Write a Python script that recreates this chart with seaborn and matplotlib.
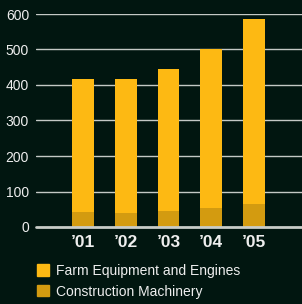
import numpy as np
import pandas as pd
import matplotlib
matplotlib.use("Agg")
import matplotlib.pyplot as plt
import seaborn as sns
from matplotlib.patches import Patch

years = ["\u201901", "\u201902", "\u201903", "\u201904", "\u201905"]
construction = [41, 39, 44, 53, 64]
farm = [376, 377, 401, 447, 522]
yticks = [0, 100, 200, 300, 400, 500, 600]

bg = "#011610"
farm_color = "#FDB913"
constr_color = "#D39B10"
text_color = "#EEEEEE"

sns.set_style("dark")
plt.rcParams["font.family"] = ["Liberation Sans", "DejaVu Sans"]

df = pd.DataFrame({"year": years, "farm": farm, "construction": construction})
df["total"] = df["farm"] + df["construction"]

fig = plt.figure(figsize=(3.02, 3.04), dpi=100, facecolor=bg)
ax = fig.add_axes([36 / 302, 1 - 227 / 304, 266 / 302, 213 / 304])
ax.set_facecolor(bg)

# grid lines behind bars
for v in yticks[1:]:
    ax.axhline(v, color="#C4C9C5", lw=1.0, zorder=0)
ax.axhline(0, color="#C8CCC8", lw=2.0, zorder=3, clip_on=False)

sns.barplot(data=df, x="year", y="total", color=farm_color, width=0.51,
            saturation=1, linewidth=0, edgecolor="none", ax=ax, zorder=2)
sns.barplot(data=df, x="year", y="construction", color=constr_color, width=0.51,
            saturation=1, linewidth=0, edgecolor="none", ax=ax, zorder=2)

ax.set_xlim(-1.1, 5.12)
ax.set_ylim(0, 600)
ax.set_yticks(yticks)
ax.set_xlabel("")
ax.set_ylabel("")
ax.grid(False)
for s in ax.spines.values():
    s.set_visible(False)
ax.tick_params(axis="y", length=0, pad=5, labelsize=10, labelcolor=text_color)
ax.tick_params(axis="x", length=0, pad=6, labelsize=12.5, labelcolor=text_color)
for lab in ax.get_xticklabels():
    lab.set_fontweight("bold")

handles = [Patch(color=farm_color, label="Farm Equipment and Engines"),
           Patch(color=constr_color, label="Construction Machinery")]
leg = fig.legend(handles=handles, loc="upper left", bbox_to_anchor=(34 / 302, 1 - 261 / 304),
                 frameon=False, handlelength=0.85, handleheight=0.85, handletextpad=0.5,
                 labelspacing=0.5, fontsize=10, borderaxespad=0, borderpad=0.2)
for t in leg.get_texts():
    t.set_color(text_color)

fig.savefig("out.png", dpi=100, facecolor=bg)
